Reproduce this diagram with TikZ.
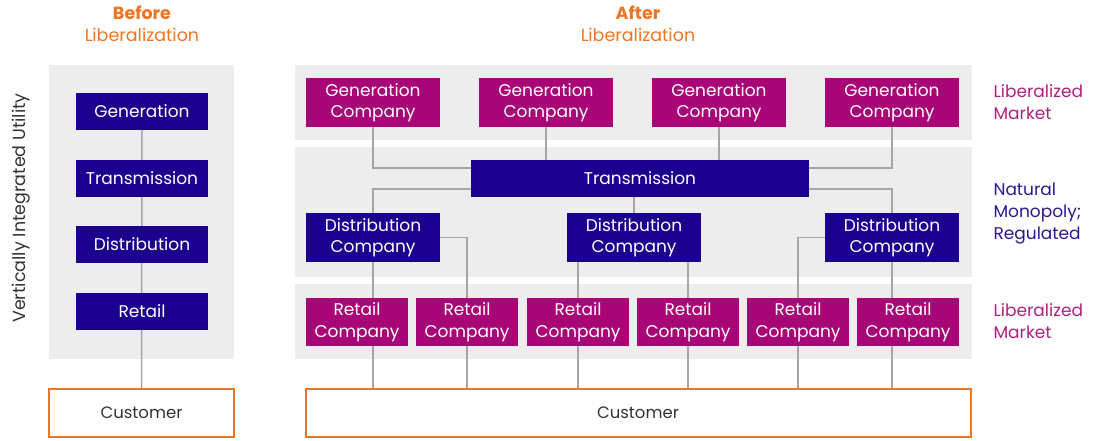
\documentclass[tikz,border=0pt]{standalone}
\usepackage{fontspec}
\setmainfont{Poppins}
\usetikzlibrary{calc}
\definecolor{navy}{HTML}{1B0090}
\definecolor{plum}{HTML}{A80577}
\definecolor{tang}{HTML}{F07522}
\definecolor{panel}{HTML}{EDEDED}
\definecolor{wire}{HTML}{A6A6A6}
\definecolor{plumtxt}{HTML}{B0207F}
\definecolor{navytxt}{HTML}{2A1A8F}
\definecolor{ink}{HTML}{333333}
\pgfdeclarelayer{panels}
\pgfdeclarelayer{wires}
\pgfsetlayers{panels,wires,main}
\tikzset{
  box/.style={inner sep=0pt, text=white, align=center,
    font=\fontsize{17}{21.5}\selectfont},
  utilbox/.style={box, fill=navy, minimum width=132pt, minimum height=37pt},
  trbox/.style={box, fill=navy, minimum width=338pt, minimum height=37pt},
  gencobox/.style={box, fill=plum, minimum width=134pt, minimum height=49pt},
  distbox/.style={box, fill=navy, minimum width=134pt, minimum height=49pt},
  retbox/.style={box, fill=plum, minimum width=102pt, minimum height=48pt},
  custbox/.style={inner sep=0pt, draw=tang, line width=2pt, fill=white, text=ink,
    minimum height=48pt, font=\fontsize{16.5}{20}\selectfont},
  link/.style={draw=wire, line width=1.5pt},
  panelbg/.style={fill=panel, draw=none},
  heading/.style={text=tang, font=\fontsize{17.5}{20}\selectfont},
  sidelabel/.style={anchor=west, align=left, font=\fontsize{17}{22}\selectfont},
}
\begin{document}
\begin{tikzpicture}[x=1pt,y=-1pt]
\useasboundingbox (0,0) rectangle (1099,440);

% grey bands
\begin{pgfonlayer}{panels}
  \path[panelbg] (49,65) rectangle (234,359);
  \path[panelbg] (295,65) rectangle (972,140);
  \path[panelbg] (295,147) rectangle (972,277);
  \path[panelbg] (295,284) rectangle (972,359);
\end{pgfonlayer}

% headings
\node[heading, font=\fontsize{17.5}{20}\selectfont\bfseries] (hb1) at (142,13) {Before};
\node[heading] (hb2) at (142,35) {Liberalization};
\node[heading, font=\fontsize{17.5}{20}\selectfont\bfseries] (ha1) at (638,13) {After};
\node[heading] (ha2) at (638,35) {Liberalization};

\node[rotate=90, text=ink, font=\fontsize{17.5}{20}\selectfont] (viu) at (21,208) {Vertically Integrated Utility};

% vertically integrated utility
\node[utilbox] (lgen) at (142,111.5) {Generation};
\node[utilbox] (ltr)  at (142,178.5) {Transmission};
\node[utilbox] (ldist) at (142,244.5) {Distribution};
\node[utilbox] (lret) at (142,311.5) {Retail};
\node[custbox, minimum width=185pt] (lcust) at (141.5,413) {Customer};

% liberalized structure
\node[gencobox] (g1) at (373,102.5) {Generation\\Company};
\node[gencobox] (g2) at (546,102.5) {Generation\\Company};
\node[gencobox] (g3) at (719,102.5) {Generation\\Company};
\node[gencobox] (g4) at (892,102.5) {Generation\\Company};

\node[trbox] (tr) at (640,178.5) {Transmission};

\node[distbox] (d1) at (373,237.5) {Distribution\\Company};
\node[distbox] (d2) at (634,237.5) {Distribution\\Company};
\node[distbox] (d3) at (892,237.5) {Distribution\\Company};

\node[retbox] (r1) at (357,322) {Retail\\Company};
\node[retbox] (r2) at (467,322) {Retail\\Company};
\node[retbox] (r3) at (578,322) {Retail\\Company};
\node[retbox] (r4) at (688,322) {Retail\\Company};
\node[retbox] (r5) at (798,322) {Retail\\Company};
\node[retbox] (r6) at (908,322) {Retail\\Company};

\node[custbox, minimum width=665pt] (rcust) at (638,413) {Customer};

% side labels
\node[sidelabel, text=plumtxt] (lm1) at (990,102) {Liberalized\\Market};
\node[sidelabel, text=navytxt] (nm) at (990,213) {Natural\\Monopoly;\\Regulated};
\node[sidelabel, text=plumtxt] (lm2) at (990,321) {Liberalized\\Market};

% connectors
\begin{pgfonlayer}{wires}
  \draw[link] (lgen.south) -- (lcust.north);

  \draw[link] (g1.south) |- ([yshift=10.5pt]tr.west);
  \draw[link] (g2.south) -- (g2.south |- tr.north);
  \draw[link] (g3.south) -- (g3.south |- tr.north);
  \draw[link] (g4.south) |- ([yshift=10.5pt]tr.east);

  \draw[link] ([yshift=-10.5pt]tr.west) -| (d1.north);
  \draw[link] (d2.north |- tr.south) -- (d2.north);
  \draw[link] ([yshift=-10.5pt]tr.east) -| (d3.north);

  \draw[link] (d1.south) -- (d1.south |- rcust.north);
  \draw[link] (d1.east) -| (r2.center |- rcust.north);
  \draw[link] (r3.center |- d2.south) -- (r3.center |- rcust.north);
  \draw[link] (r4.center |- d2.south) -- (r4.center |- rcust.north);
  \draw[link] (d3.west) -| (r5.center |- rcust.north);
  \draw[link] (d3.south) -- (d3.south |- rcust.north);
\end{pgfonlayer}
\end{tikzpicture}
\end{document}
